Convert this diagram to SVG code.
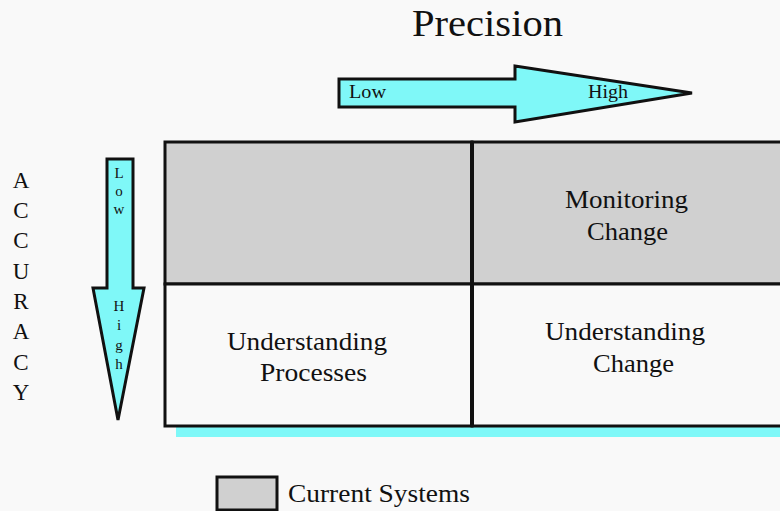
<svg xmlns="http://www.w3.org/2000/svg" width="780" height="511" viewBox="0 0 780 511">
  <style>
    .t { font-family: "Liberation Serif", "Times New Roman", serif; fill: #111; }
    .cell { stroke: #111; stroke-width: 3; }
    .arrow { fill: #7ff8f8; stroke: #111; stroke-width: 3; stroke-linejoin: miter; }
  </style>
  <rect width="780" height="511" fill="#f9f9f9"/>

  <text class="t" x="412" y="36" font-size="38" textLength="151" lengthAdjust="spacingAndGlyphs">Precision</text>

  <!-- precision arrow -->
  <g id="precision-arrow">
    <polygon class="arrow" points="339,79 515,79 515,66 692,93 515,122 515,107 339,107"/>
    <text class="t" x="349" y="98" font-size="18" textLength="37" lengthAdjust="spacingAndGlyphs">Low</text>
    <text class="t" x="588" y="98" font-size="18" textLength="40" lengthAdjust="spacingAndGlyphs">High</text>
  </g>

  <!-- accuracy axis label, one letter per line -->
  <g id="accuracy-label" class="t" font-size="23" text-anchor="middle">
    <text x="21" y="188">A</text>
    <text x="21" y="218">C</text>
    <text x="21" y="248">C</text>
    <text x="21" y="279">U</text>
    <text x="21" y="309">R</text>
    <text x="21" y="339">A</text>
    <text x="21" y="370">C</text>
    <text x="21" y="400">Y</text>
  </g>

  <!-- accuracy arrow -->
  <g id="accuracy-arrow">
    <polygon class="arrow" points="107,159 133,159 133,288 144,288 118,420 93,288 107,288"/>
    <g class="t" font-size="15" text-anchor="middle">
      <text x="119" y="178">L</text>
      <text x="119" y="196">o</text>
      <text x="119" y="214">w</text>
      <text x="119" y="311">H</text>
      <text x="119" y="330">i</text>
      <text x="119" y="350">g</text>
      <text x="119" y="369">h</text>
    </g>
  </g>

  <!-- matrix -->
  <rect x="176" y="427" width="604" height="10" fill="#7ff8f8"/>
  <g id="cell-low-low">
    <rect class="cell" x="165" y="142" width="307" height="142" fill="#d0d0d0"/>
  </g>
  <g id="cell-high-low">
    <rect class="cell" x="472" y="142" width="310" height="142" fill="#d0d0d0"/>
    <text class="t" x="565" y="208" font-size="25" textLength="123" lengthAdjust="spacingAndGlyphs">Monitoring</text>
    <text class="t" x="587" y="240" font-size="25" textLength="81" lengthAdjust="spacingAndGlyphs">Change</text>
  </g>
  <g id="cell-low-high">
    <rect class="cell" x="165" y="284" width="307" height="142" fill="#f9f9f9"/>
    <text class="t" x="227" y="350" font-size="25" textLength="160" lengthAdjust="spacingAndGlyphs">Understanding</text>
    <text class="t" x="260" y="381" font-size="25" textLength="107" lengthAdjust="spacingAndGlyphs">Processes</text>
  </g>
  <g id="cell-high-high">
    <rect class="cell" x="472" y="284" width="310" height="142" fill="#f9f9f9"/>
    <text class="t" x="545" y="340" font-size="25" textLength="160" lengthAdjust="spacingAndGlyphs">Understanding</text>
    <text class="t" x="593" y="372" font-size="25" textLength="81" lengthAdjust="spacingAndGlyphs">Change</text>
  </g>
  <line x1="472" y1="142" x2="472" y2="426" stroke="#111" stroke-width="4"/>

  <!-- legend -->
  <g id="legend">
    <rect x="217" y="477" width="60" height="33" fill="#d0d0d0" stroke="#111" stroke-width="3"/>
    <text class="t" x="288" y="502" font-size="25" textLength="182" lengthAdjust="spacingAndGlyphs">Current Systems</text>
  </g>
</svg>
